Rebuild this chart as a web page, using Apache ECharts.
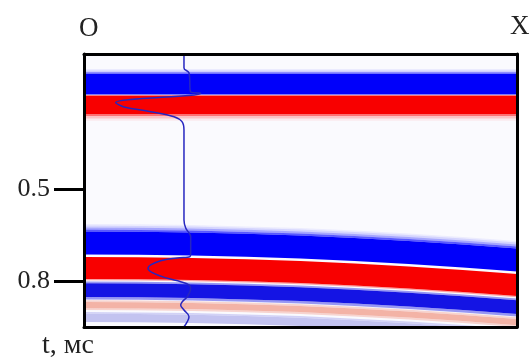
<!DOCTYPE html>
<html>
<head>
<meta charset="utf-8">
<script src="https://cdn.jsdelivr.net/npm/echarts@6/dist/echarts.min.js"></script>
<style>
html, body { margin: 0; background: #fff; }
#main { width: 532px; height: 363px; }
</style>
</head>
<body>
<div id="main"></div>
<script>
// profile positions along X (0..100)
let xs = [0, 12.5, 25, 37.5, 50, 62.5, 75, 87.5, 100];
// first reflection, flat (t at blue/red boundary)
let horizon1 = [0.1935, 0.1935, 0.1935, 0.1935, 0.1935, 0.1935, 0.1935, 0.1935, 0.1935];
// second reflection, bends down to the right
let horizon2 = [0.7185, 0.7194, 0.7217, 0.7260, 0.7315, 0.7397, 0.7494, 0.7608, 0.7739];
// band limits relative to the horizon [top, bottom]
let bands1 = [[-0.0845, -0.0800], [-0.0800, -0.0740], [-0.0740, -0.0680], [-0.0680, -0.0016], [0.0016, 0.0620], [0.0620, 0.0690], [0.0690, 0.0770], [0.0770, 0.0840]];
let bands2 = [[-0.1040, -0.0990], [-0.0990, -0.0930], [-0.0930, -0.0860], [-0.0860, -0.0800], [-0.0800, -0.0049], [0.0033, 0.0750], [0.0750, 0.0790],
              [0.0830, 0.0890], [0.0890, 0.1340], [0.1340, 0.1420], [0.1440, 0.1500], [0.1500, 0.1700], [0.1700, 0.1760],
              [0.1830, 0.1880], [0.1880, 0.2150]];
// the blue wiggle trace (x, t)
let traceX = [23.09, 23.09, 24.25, 24.64, 26.95, 7.32, 9.24, 15.40, 20.79, 22.63, 23.09,
              23.09, 23.49, 24.25, 24.64, 24.64, 24.48, 21.48, 17.71, 15.40, 14.78, 15.77, 19.24, 22.33, 24.25, 24.64, 23.86, 22.70, 22.33, 23.09, 24.25, 23.86, 23.09];
let traceT = [0.060, 0.1055, 0.1218, 0.1837, 0.1880, 0.2186, 0.2326, 0.2480, 0.2643, 0.2806, 0.3076,
              0.6011, 0.6272, 0.6435, 0.6555, 0.7087, 0.7207, 0.7250, 0.7338, 0.7478, 0.7586, 0.7729, 0.7912, 0.8023, 0.8130, 0.8238, 0.8512, 0.8675, 0.8782, 0.8945, 0.9164, 0.9327, 0.9490];
let yTicks = [0.5, 0.8];

// colours of the bands, same order as above
let colors1 = ['rgba(60,60,255,0.08)', 'rgba(40,40,255,0.22)', 'rgba(20,20,255,0.6)', '#0000fa', '#f80000', 'rgba(255,0,0,0.55)', 'rgba(255,30,30,0.25)', 'rgba(255,60,60,0.08)'];
let colors2 = ['rgba(60,60,255,0.07)', 'rgba(40,40,255,0.18)', 'rgba(30,30,255,0.38)', 'rgba(20,20,255,0.7)', '#0000fa', '#f80000', 'rgba(255,0,0,0.35)',
               'rgba(30,30,230,0.45)', '#1414e4', 'rgba(30,30,230,0.45)', 'rgba(240,140,120,0.35)', '#f3b3a6', 'rgba(240,140,120,0.35)',
               'rgba(120,120,230,0.3)', '#c3c3f0'];

window.onload = function() {
    let chart = echarts.init(document.getElementById('main'));
    chart.setOption(buildOption());
}

function bandRenderer(horizon, colors) {
    return function(params, api) {
        let top = api.value(0), bot = api.value(1);
        let pts = [];
        for (let k = 0; k < xs.length; k++) pts.push(api.coord([xs[k], horizon[k] + top]));
        for (let k = xs.length - 1; k >= 0; k--) pts.push(api.coord([xs[k], horizon[k] + bot]));
        let cs = params.coordSys;
        return {
            type: 'polygon',
            shape: { points: pts },
            style: { fill: colors[params.dataIndex] },
            clipPath: { type: 'rect', shape: { x: cs.x, y: cs.y, width: cs.width, height: cs.height } }
        };
    };
}

function frameAxis(pos) {
    return {
        type: 'value', min: 0, max: 100, position: pos, z: 10,
        axisLine: { show: true, onZero: false, lineStyle: { color: '#000', width: 3 } },
        axisTick: { show: false }, axisLabel: { show: false }, splitLine: { show: false }
    };
}

function buildOption() {
    let font = 'Liberation Serif';
    return {
        animation: false,
        backgroundColor: '#fff',
        title: [
            { text: 'O', left: 79, top: 15, padding: 0, textStyle: { fontFamily: font, fontSize: 27, fontWeight: 'normal', color: '#222' } },
            { text: 'X', left: 510, top: 13, padding: 0, textStyle: { fontFamily: font, fontSize: 27, fontWeight: 'normal', color: '#222' } },
            { text: 't, мс', left: 42, top: 332, padding: 0, textStyle: { fontFamily: font, fontSize: 28, fontWeight: 'normal', color: '#222' } }
        ],
        grid: { left: 84, right: 15, top: 54, bottom: 36, show: true, backgroundColor: '#fafafe', borderWidth: 0 },
        xAxis: [frameAxis('bottom'), frameAxis('top')],
        yAxis: [
            {
                type: 'value', inverse: true, min: 0.06, max: 0.95, position: 'left', z: 10,
                axisLine: { show: true, onZero: false, lineStyle: { color: '#000', width: 3 } },
                axisTick: { show: true, customValues: yTicks, length: 30, lineStyle: { color: '#000', width: 3 } },
                axisLabel: { customValues: yTicks, margin: 34, fontFamily: font, fontSize: 26, color: '#222',
                             formatter: v => v.toFixed(1) },
                splitLine: { show: false }
            },
            {
                type: 'value', inverse: true, min: 0.06, max: 0.95, position: 'right', z: 10,
                axisLine: { show: true, onZero: false, lineStyle: { color: '#000', width: 3 } },
                axisTick: { show: false }, axisLabel: { show: false }, splitLine: { show: false }
            }
        ],
        series: [
            { type: 'custom', renderItem: bandRenderer(horizon1, colors1), data: bands1, silent: true },
            { type: 'custom', renderItem: bandRenderer(horizon2, colors2), data: bands2, silent: true },
            {
                type: 'line', smooth: 0.4, symbol: 'none', z: 5,
                data: traceX.map((x, i) => [x, traceT[i]]),
                lineStyle: { color: '#2626c0', width: 1.5 }
            }
        ]
    };
}
</script>
</body>
</html>
